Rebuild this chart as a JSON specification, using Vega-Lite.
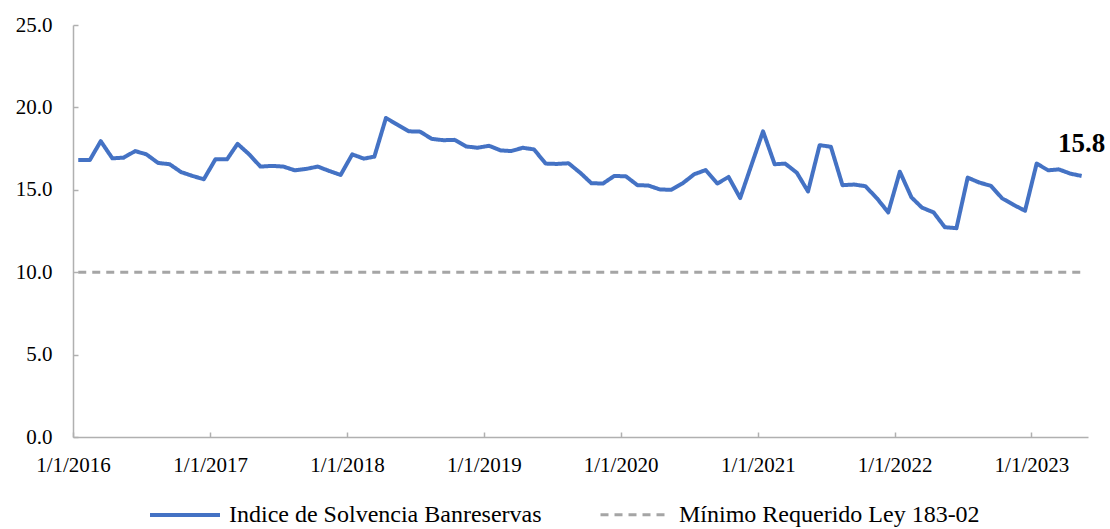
{
  "$schema": "https://vega.github.io/schema/vega-lite/v6.json",
  "width": 1015,
  "height": 412,
  "autosize": {"type": "none"},
  "padding": {"left": 73, "top": 25, "right": 22, "bottom": 92},
  "background": "white",
  "config": {
    "view": {"stroke": null},
    "font": "Liberation Serif",
    "axis": {
      "labelFont": "Liberation Serif",
      "labelFontSize": 21,
      "labelColor": "#000000",
      "domainColor": "#B0B0B0",
      "domainWidth": 1.5,
      "tickColor": "#B0B0B0",
      "tickWidth": 1.5,
      "tickSize": -5,
      "grid": false,
      "title": null
    },
    "legend": {
      "labelFont": "Liberation Serif",
      "labelFontSize": 24,
      "labelColor": "#000000",
      "labelLimit": 500,
      "symbolType": "stroke",
      "symbolSize": 4900,
      "symbolStrokeWidth": 4,
      "labelOffset": 7,
      "columnPadding": 52
    }
  },
  "data": {
    "format": {"parse": {"fecha": "utc:'%Y-%m-%d'"}},
    "values": [
      {"fecha": "2016-01-15", "indice": 16.81, "minimo": 10},
      {"fecha": "2016-02-15", "indice": 16.81, "minimo": 10},
      {"fecha": "2016-03-15", "indice": 17.95, "minimo": 10},
      {"fecha": "2016-04-15", "indice": 16.91, "minimo": 10},
      {"fecha": "2016-05-15", "indice": 16.95, "minimo": 10},
      {"fecha": "2016-06-15", "indice": 17.35, "minimo": 10},
      {"fecha": "2016-07-15", "indice": 17.15, "minimo": 10},
      {"fecha": "2016-08-15", "indice": 16.63, "minimo": 10},
      {"fecha": "2016-09-15", "indice": 16.55, "minimo": 10},
      {"fecha": "2016-10-15", "indice": 16.08, "minimo": 10},
      {"fecha": "2016-11-15", "indice": 15.84, "minimo": 10},
      {"fecha": "2016-12-15", "indice": 15.64, "minimo": 10},
      {"fecha": "2017-01-15", "indice": 16.85, "minimo": 10},
      {"fecha": "2017-02-15", "indice": 16.85, "minimo": 10},
      {"fecha": "2017-03-15", "indice": 17.79, "minimo": 10},
      {"fecha": "2017-04-15", "indice": 17.15, "minimo": 10},
      {"fecha": "2017-05-15", "indice": 16.41, "minimo": 10},
      {"fecha": "2017-06-15", "indice": 16.45, "minimo": 10},
      {"fecha": "2017-07-15", "indice": 16.41, "minimo": 10},
      {"fecha": "2017-08-15", "indice": 16.18, "minimo": 10},
      {"fecha": "2017-09-15", "indice": 16.27, "minimo": 10},
      {"fecha": "2017-10-15", "indice": 16.41, "minimo": 10},
      {"fecha": "2017-11-15", "indice": 16.14, "minimo": 10},
      {"fecha": "2017-12-15", "indice": 15.90, "minimo": 10},
      {"fecha": "2018-01-15", "indice": 17.15, "minimo": 10},
      {"fecha": "2018-02-15", "indice": 16.89, "minimo": 10},
      {"fecha": "2018-03-15", "indice": 17.01, "minimo": 10},
      {"fecha": "2018-04-15", "indice": 19.36, "minimo": 10},
      {"fecha": "2018-05-15", "indice": 18.96, "minimo": 10},
      {"fecha": "2018-06-15", "indice": 18.55, "minimo": 10},
      {"fecha": "2018-07-15", "indice": 18.53, "minimo": 10},
      {"fecha": "2018-08-15", "indice": 18.09, "minimo": 10},
      {"fecha": "2018-09-15", "indice": 18.01, "minimo": 10},
      {"fecha": "2018-10-15", "indice": 18.03, "minimo": 10},
      {"fecha": "2018-11-15", "indice": 17.63, "minimo": 10},
      {"fecha": "2018-12-15", "indice": 17.55, "minimo": 10},
      {"fecha": "2019-01-15", "indice": 17.67, "minimo": 10},
      {"fecha": "2019-02-15", "indice": 17.39, "minimo": 10},
      {"fecha": "2019-03-15", "indice": 17.35, "minimo": 10},
      {"fecha": "2019-04-15", "indice": 17.55, "minimo": 10},
      {"fecha": "2019-05-15", "indice": 17.45, "minimo": 10},
      {"fecha": "2019-06-15", "indice": 16.59, "minimo": 10},
      {"fecha": "2019-07-15", "indice": 16.57, "minimo": 10},
      {"fecha": "2019-08-15", "indice": 16.61, "minimo": 10},
      {"fecha": "2019-09-15", "indice": 16.04, "minimo": 10},
      {"fecha": "2019-10-15", "indice": 15.40, "minimo": 10},
      {"fecha": "2019-11-15", "indice": 15.38, "minimo": 10},
      {"fecha": "2019-12-15", "indice": 15.84, "minimo": 10},
      {"fecha": "2020-01-15", "indice": 15.82, "minimo": 10},
      {"fecha": "2020-02-15", "indice": 15.28, "minimo": 10},
      {"fecha": "2020-03-15", "indice": 15.26, "minimo": 10},
      {"fecha": "2020-04-15", "indice": 15.02, "minimo": 10},
      {"fecha": "2020-05-15", "indice": 15.00, "minimo": 10},
      {"fecha": "2020-06-15", "indice": 15.40, "minimo": 10},
      {"fecha": "2020-07-15", "indice": 15.94, "minimo": 10},
      {"fecha": "2020-08-15", "indice": 16.20, "minimo": 10},
      {"fecha": "2020-09-15", "indice": 15.38, "minimo": 10},
      {"fecha": "2020-10-15", "indice": 15.78, "minimo": 10},
      {"fecha": "2020-11-15", "indice": 14.50, "minimo": 10},
      {"fecha": "2020-12-15", "indice": 16.50, "minimo": 10},
      {"fecha": "2021-01-15", "indice": 18.55, "minimo": 10},
      {"fecha": "2021-02-15", "indice": 16.55, "minimo": 10},
      {"fecha": "2021-03-15", "indice": 16.59, "minimo": 10},
      {"fecha": "2021-04-15", "indice": 16.04, "minimo": 10},
      {"fecha": "2021-05-15", "indice": 14.90, "minimo": 10},
      {"fecha": "2021-06-15", "indice": 17.71, "minimo": 10},
      {"fecha": "2021-07-15", "indice": 17.61, "minimo": 10},
      {"fecha": "2021-08-15", "indice": 15.28, "minimo": 10},
      {"fecha": "2021-09-15", "indice": 15.32, "minimo": 10},
      {"fecha": "2021-10-15", "indice": 15.22, "minimo": 10},
      {"fecha": "2021-11-15", "indice": 14.48, "minimo": 10},
      {"fecha": "2021-12-15", "indice": 13.63, "minimo": 10},
      {"fecha": "2022-01-15", "indice": 16.10, "minimo": 10},
      {"fecha": "2022-02-15", "indice": 14.54, "minimo": 10},
      {"fecha": "2022-03-15", "indice": 13.92, "minimo": 10},
      {"fecha": "2022-04-15", "indice": 13.63, "minimo": 10},
      {"fecha": "2022-05-15", "indice": 12.73, "minimo": 10},
      {"fecha": "2022-06-15", "indice": 12.67, "minimo": 10},
      {"fecha": "2022-07-15", "indice": 15.74, "minimo": 10},
      {"fecha": "2022-08-15", "indice": 15.44, "minimo": 10},
      {"fecha": "2022-09-15", "indice": 15.24, "minimo": 10},
      {"fecha": "2022-10-15", "indice": 14.48, "minimo": 10},
      {"fecha": "2022-11-15", "indice": 14.08, "minimo": 10},
      {"fecha": "2022-12-15", "indice": 13.73, "minimo": 10},
      {"fecha": "2023-01-15", "indice": 16.59, "minimo": 10},
      {"fecha": "2023-02-15", "indice": 16.18, "minimo": 10},
      {"fecha": "2023-03-15", "indice": 16.24, "minimo": 10},
      {"fecha": "2023-04-15", "indice": 15.98, "minimo": 10},
      {"fecha": "2023-05-15", "indice": 15.84, "minimo": 10}
    ]
  },
  "layer": [
    {
      "transform": [{"fold": ["indice", "minimo"], "as": ["serie", "valor"]}],
      "mark": {"type": "line", "strokeCap": "butt", "strokeJoin": "round"},
      "encoding": {
        "x": {
          "field": "fecha",
          "type": "temporal",
          "scale": {
            "type": "utc",
            "domain": [
              {"year": 2016, "month": 1, "date": 1, "utc": true},
              {"year": 2023, "month": 6, "date": 1, "utc": true}
            ]
          },
          "axis": {
            "values": [
              {"year": 2016, "month": 1, "date": 1, "utc": true},
              {"year": 2017, "month": 1, "date": 1, "utc": true},
              {"year": 2018, "month": 1, "date": 1, "utc": true},
              {"year": 2019, "month": 1, "date": 1, "utc": true},
              {"year": 2020, "month": 1, "date": 1, "utc": true},
              {"year": 2021, "month": 1, "date": 1, "utc": true},
              {"year": 2022, "month": 1, "date": 1, "utc": true},
              {"year": 2023, "month": 1, "date": 1, "utc": true}
            ],
            "labelExpr": "utcFormat(datum.value, '%-m/%-d/%Y')",
            "labelPadding": 22,
            "labelOverlap": false,
            "labelFlush": false
          }
        },
        "y": {
          "field": "valor",
          "type": "quantitative",
          "scale": {"domain": [0, 25], "nice": false, "zero": true},
          "axis": {
            "values": [0, 5, 10, 15, 20, 25],
            "format": ".1f",
            "labelPadding": 26
          }
        },
        "color": {
          "field": "serie",
          "type": "nominal",
          "scale": {"domain": ["indice", "minimo"], "range": ["#4472C4", "#A5A5A5"]},
          "legend": {
            "title": null,
            "orient": "none",
            "direction": "horizontal",
            "legendX": 75,
            "legendY": 453,
            "labelExpr": "datum.value == 'indice' ? 'Indice de Solvencia Banreservas' : 'Mínimo Requerido Ley 183-02'"
          }
        },
        "strokeDash": {
          "field": "serie",
          "type": "nominal",
          "scale": {"domain": ["indice", "minimo"], "range": [[1, 0], [8, 6]]},
          "legend": {
            "title": null,
            "orient": "none",
            "direction": "horizontal",
            "legendX": 75,
            "legendY": 453,
            "labelExpr": "datum.value == 'indice' ? 'Indice de Solvencia Banreservas' : 'Mínimo Requerido Ley 183-02'"
          }
        },
        "strokeWidth": {
          "field": "serie",
          "type": "nominal",
          "scale": {"domain": ["indice", "minimo"], "range": [4, 3]},
          "legend": null
        }
      }
    },
    {
      "transform": [
        {"joinaggregate": [{"op": "max", "field": "fecha", "as": "ultima"}]},
        {"filter": "time(datum.fecha) == time(datum.ultima)"}
      ],
      "mark": {
        "type": "text",
        "font": "Liberation Serif",
        "fontWeight": "bold",
        "fontSize": 27,
        "align": "center",
        "baseline": "alphabetic",
        "dy": -24,
        "color": "#000000"
      },
      "encoding": {
        "x": {"field": "fecha", "type": "temporal"},
        "y": {"field": "indice", "type": "quantitative"},
        "text": {"field": "indice", "type": "quantitative", "format": ".1f"}
      }
    }
  ]
}
